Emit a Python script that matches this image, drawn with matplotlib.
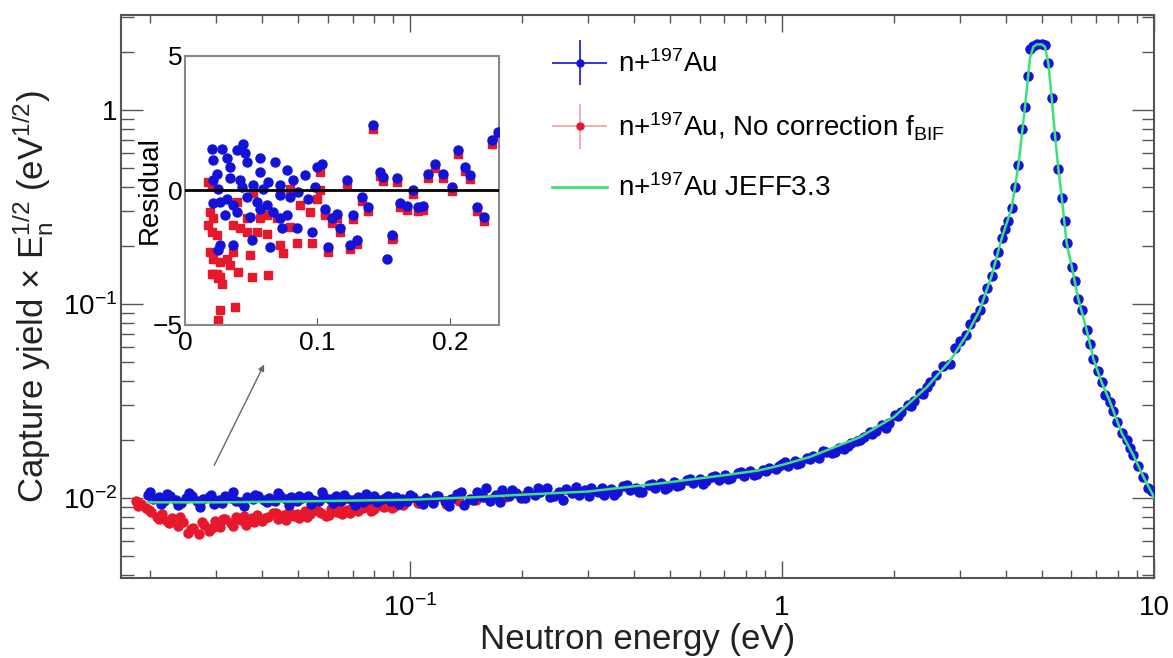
import numpy as np
import matplotlib
matplotlib.use('Agg')
import matplotlib.pyplot as plt
from matplotlib.ticker import LogLocator, FixedLocator, FixedFormatter, NullFormatter
from matplotlib.container import ErrorbarContainer
from matplotlib.legend_handler import HandlerErrorbar

plt.rcParams['font.family'] = ['Liberation Sans', 'DejaVu Sans']
plt.rcParams['mathtext.fontset'] = 'custom'
plt.rcParams['mathtext.rm'] = 'Liberation Sans'
plt.rcParams['mathtext.it'] = 'Liberation Sans:italic'
plt.rcParams['mathtext.bf'] = 'Liberation Sans:bold'

# Main plot data: capture yield x sqrt(E)
# n+197Au (corrected), blue
blue_E = [0.0197, 0.0204, 0.0211, 0.0218, 0.0226, 0.0234, 0.0242, 0.0250, 0.0259, 0.0268,
          0.0277, 0.0287, 0.0297, 0.0307, 0.0318, 0.0329, 0.0340, 0.0352, 0.0364, 0.0377,
          0.0390, 0.0404, 0.0418, 0.0432, 0.0447, 0.0463, 0.0479, 0.0496, 0.0513, 0.0531,
          0.0549, 0.0568, 0.0588, 0.0609, 0.0630, 0.0652, 0.0674, 0.0698, 0.0722, 0.0747,
          0.0773, 0.0800, 0.0828, 0.0857, 0.0887, 0.0918, 0.0950, 0.0983,
          0.102, 0.106, 0.110, 0.115, 0.119, 0.124, 0.129, 0.134, 0.140, 0.145,
          0.151, 0.157, 0.164, 0.170, 0.177, 0.184, 0.192, 0.199, 0.207, 0.216,
          0.224, 0.233, 0.243, 0.252, 0.263, 0.273, 0.284, 0.296, 0.307, 0.320,
          0.333, 0.346, 0.360, 0.374, 0.389, 0.405, 0.421, 0.438, 0.456, 0.474,
          0.493, 0.513, 0.533, 0.555, 0.577, 0.600, 0.624, 0.649, 0.675, 0.702,
          0.730, 0.760, 0.790, 0.822, 0.855, 0.889, 0.924, 0.961,
          1.00, 1.04, 1.08, 1.12, 1.17, 1.21, 1.26, 1.31, 1.36, 1.42,
          1.47, 1.53, 1.59, 1.66, 1.72, 1.79, 1.86, 1.94, 2.01, 2.09,
          2.18, 2.26, 2.35, 2.45,
          2.50, 2.60, 2.71, 2.83, 2.92, 3.01, 3.13, 3.20, 3.30, 3.40,
          3.48, 3.55, 3.66, 3.74, 3.81, 3.90, 3.98, 4.06, 4.14, 4.23,
          4.32, 4.41, 4.50, 4.59, 4.64, 4.74, 4.84, 4.99, 5.09, 5.20,
          5.31, 5.42, 5.53, 5.65, 5.76, 5.82, 6.01, 6.13, 6.26, 6.39,
          6.59, 6.73, 6.87, 7.09, 7.23, 7.38, 7.62, 7.78, 7.94, 8.19,
          8.45, 8.61, 8.79, 9.08, 9.36, 9.65, 9.86,
          # in-between bins
          0.0200, 0.0214, 0.0222, 0.0238, 0.0254, 0.0272, 0.0292, 0.0312, 0.0334, 0.0358,
          0.0383, 0.0411, 0.0440, 0.0471, 0.0504, 0.0540, 0.0578, 0.0620, 0.0663, 0.0710,
          0.0760, 0.0814, 0.0872, 0.0934, 0.0999,
          0.108, 0.117, 0.127, 0.137, 0.148, 0.160, 0.174, 0.188, 0.203, 0.220,
          0.238, 0.258, 0.279, 0.302, 0.327, 0.353, 0.382, 0.413, 0.447, 0.484,
          0.523, 0.566, 0.612, 0.662, 0.716, 0.775, 0.838, 0.906, 0.980,
          1.02, 1.10, 1.19, 1.29, 1.39, 1.50, 1.62, 1.75, 1.90, 2.05, 2.22, 2.40]
blue_Y = [0.0104, 0.0099, 0.0101, 0.0097, 0.0102, 0.0098, 0.0094, 0.0100, 0.0103, 0.0096,
          0.0099, 0.0101, 0.0093, 0.0098, 0.0102, 0.0100, 0.0097, 0.0095, 0.0101, 0.0099,
          0.0103, 0.0098, 0.0100, 0.0096, 0.0102, 0.0099, 0.0101, 0.0097, 0.0100, 0.0103,
          0.0098, 0.0096, 0.0101, 0.0099, 0.0102, 0.0097, 0.0100, 0.0098, 0.0101, 0.0095,
          0.0099, 0.0102, 0.0098, 0.0100, 0.0097, 0.0101, 0.0099, 0.0096,
          0.0101, 0.0096, 0.0100, 0.0094, 0.0102, 0.0097, 0.0099, 0.0105, 0.0092, 0.0099,
          0.0108, 0.0101, 0.0097, 0.0104, 0.0110, 0.0102, 0.0106, 0.0100, 0.0109, 0.0104,
          0.0107, 0.0112, 0.0103, 0.0108, 0.0111, 0.0106, 0.0104, 0.0110, 0.0113, 0.0107,
          0.0104, 0.0111, 0.0108, 0.0115, 0.0110, 0.0113, 0.0108, 0.0117, 0.0112, 0.0119,
          0.0114, 0.0121, 0.0117, 0.0124, 0.0119, 0.0126, 0.0122, 0.0129, 0.0124, 0.0131,
          0.0127, 0.0134, 0.0130, 0.0137, 0.0133, 0.0140, 0.0143, 0.0141,
          0.0150, 0.0147, 0.0156, 0.0152, 0.0161, 0.0164, 0.0160, 0.0172, 0.0170, 0.0181,
          0.0178, 0.0192, 0.0197, 0.0206, 0.0218, 0.0221, 0.0238, 0.0245, 0.0268, 0.0279,
          0.0301, 0.0318, 0.0346, 0.0372,
          0.0395, 0.0430, 0.0479, 0.0489, 0.0594, 0.0647, 0.0691, 0.0785, 0.0857, 0.0933,
          0.106, 0.121, 0.140, 0.160, 0.185, 0.220, 0.245, 0.267, 0.311, 0.402,
          0.521, 0.801, 1.04, 1.49, 2.06, 2.15, 2.20, 2.20, 2.17, 1.74,
          1.15, 0.735, 0.499, 0.354, 0.267, 0.207, 0.156, 0.132, 0.106, 0.0933,
          0.0737, 0.0620, 0.0522, 0.0449, 0.0395, 0.0340, 0.0312, 0.0280, 0.0246, 0.0216,
          0.0198, 0.0182, 0.0167, 0.0147, 0.0129, 0.0113, 0.0109,
          0.0107, 0.0093, 0.0105, 0.0092, 0.0106, 0.0090, 0.0104, 0.0094, 0.0108, 0.0091,
          0.0104, 0.0095, 0.0106, 0.0092, 0.0103, 0.0093, 0.0107, 0.0094, 0.0104, 0.0092,
          0.0105, 0.0095, 0.0103, 0.0093, 0.0104,
          0.0093, 0.0103, 0.0091, 0.0107, 0.0098, 0.0112, 0.0095, 0.0110, 0.0100, 0.0113,
          0.0101, 0.0098, 0.0114, 0.0103, 0.0112, 0.0104, 0.0117, 0.0107, 0.0118, 0.0111,
          0.0116, 0.0125, 0.0118, 0.0130, 0.0125, 0.0136, 0.0131, 0.0138, 0.0146,
          0.0153, 0.0149, 0.0158, 0.0175, 0.0173, 0.0186, 0.0200, 0.0213, 0.0230, 0.0265,
          0.0298, 0.0345]

# n+197Au without f_BIF correction, red
red_E = [0.0183, 0.0189, 0.0195, 0.0201, 0.0208, 0.0215, 0.0222, 0.0229, 0.0237, 0.0245,
         0.0253, 0.0261, 0.0270, 0.0279, 0.0288, 0.0298, 0.0308, 0.0318, 0.0329, 0.0340,
         0.0351, 0.0363, 0.0375, 0.0387, 0.0400, 0.0414, 0.0428, 0.0442, 0.0457, 0.0472,
         0.0488, 0.0504, 0.0521, 0.0538, 0.0556, 0.0575, 0.0594, 0.0614, 0.0635, 0.0656,
         0.0678, 0.0700, 0.0724, 0.0748, 0.0773, 0.0799, 0.0826, 0.0853, 0.0882, 0.0911,
         0.0942, 0.0973, 0.105, 0.115, 0.125, 0.135, 0.150, 0.165, 0.180, 0.200,
         0.0186, 0.0198, 0.0211, 0.0225, 0.0241, 0.0257, 0.0275, 0.0293, 0.0313, 0.0334,
         0.0357, 0.0381, 0.0407, 0.0435, 0.0464, 0.0496, 0.0529, 0.0565, 0.0604, 0.0645,
         0.0689, 0.0736, 0.0786, 0.0839, 0.0896, 0.0957]
red_Y = [0.0096, 0.0093, 0.0089, 0.0085, 0.0080, 0.0083, 0.0076, 0.0079, 0.0072, 0.0075,
         0.0066, 0.0070, 0.0065, 0.0073, 0.0068, 0.0076, 0.0071, 0.0078, 0.0074, 0.0080,
         0.0077, 0.0073, 0.0079, 0.0082, 0.0076, 0.0080, 0.0084, 0.0078, 0.0082, 0.0085,
         0.0081, 0.0079, 0.0086, 0.0083, 0.0087, 0.0084, 0.0081, 0.0088, 0.0085, 0.0083,
         0.0087, 0.0090, 0.0086, 0.0089, 0.0091, 0.0088, 0.0092, 0.0090, 0.0093, 0.0091,
         0.0094, 0.0095, 0.0094, 0.0096, 0.0093, 0.0097, 0.0098, 0.0099, 0.0101, 0.0103,
         0.0091, 0.0087, 0.0078, 0.0074, 0.0080, 0.0069, 0.0075, 0.0070, 0.0078, 0.0072,
         0.0081, 0.0075, 0.0079, 0.0084, 0.0077, 0.0083, 0.0080, 0.0086, 0.0082, 0.0088,
         0.0084, 0.0089, 0.0086, 0.0091, 0.0089, 0.0092]

# JEFF3.3 evaluation, green
jeff_E = [0.0197, 0.03, 0.05, 0.1, 0.15, 0.2, 0.3, 0.47, 0.7, 0.87, 1.0, 1.19, 1.62, 2.0,
          2.45, 2.83, 3.13, 3.4, 3.66, 3.9, 4.14, 4.32, 4.5, 4.64, 4.74, 4.84, 4.99, 5.09,
          5.2, 5.31, 5.42, 5.53, 5.65, 5.82, 6.01, 6.26, 6.59, 6.87, 7.23, 7.62, 8.19,
          8.79, 9.36, 10.0]
jeff_Y = [0.0095, 0.0095, 0.0096, 0.0098, 0.0101, 0.0104, 0.0108, 0.0119, 0.0131, 0.0139,
          0.0148, 0.0163, 0.0206, 0.0262, 0.0373, 0.051, 0.069, 0.093, 0.140, 0.220, 0.311,
          0.521, 1.04, 1.85, 2.12, 2.18, 2.18, 2.12, 1.74, 1.15, 0.735, 0.499, 0.354, 0.207,
          0.156, 0.106, 0.0737, 0.0522, 0.0395, 0.0312, 0.0216, 0.0167, 0.0129, 0.0101]

# Inset residuals
res_blue_E = [0.0201, 0.0277, 0.0390, 0.0440, 0.0453, 0.0214, 0.0314, 0.0340, 0.0465, 0.0566,
              0.0566, 0.0679, 0.0767, 0.0818, 0.0906, 0.0994, 0.1032, 0.0239, 0.0214, 0.0252,
              0.0340, 0.0415, 0.0428, 0.0516, 0.0591, 0.0629, 0.0717, 0.0717, 0.0792, 0.0855,
              0.0931, 0.0981, 0.0214, 0.0264, 0.0314, 0.0365, 0.0465, 0.0541, 0.0616, 0.0302,
              0.0390, 0.0491, 0.0566, 0.0667, 0.0717, 0.0767, 0.0843, 0.0730, 0.0642, 0.0365,
              0.0264, 0.0252, 0.0503, 0.0956, 0.1057, 0.1107, 0.1145, 0.1170, 0.1220, 0.1270,
              0.1296, 0.1245, 0.1082, 0.1334, 0.1384, 0.1472, 0.1497, 0.1421, 0.1597, 0.1560,
              0.1522, 0.1623, 0.1673, 0.1723, 0.1761, 0.1799, 0.1836, 0.1887, 0.1950, 0.2013,
              0.2063, 0.2113, 0.2151, 0.2201, 0.2257, 0.2315, 0.2360]
res_blue = [1.56, 1.56, 1.50, 1.71, 1.38, 1.13, 1.19, 0.88, 1.07, 1.19,
            0.69, 1.07, 0.76, 0.38, 0.57, 0.88, 1.00, 0.63, 0.38, 0.07,
            0.45, 0.38, 0.14, 0.20, 0.07, 0.32, 0.20, -0.17, -0.24, -0.05,
            -0.30, 0.14, -0.48, -0.42, -0.30, -0.55, -0.24, -0.42, -0.55, -0.92,
            -0.79, -0.98, -0.67, -0.79, -1.04, -0.92, -1.41, -1.41, -2.09, -2.03,
            -2.03, -2.22, -1.85, -1.54, -0.67, -1.04, -0.86, -1.41, 0.38, -0.92,
            -1.85, -2.03, -2.09, -0.24, -0.61, 0.69, 0.51, 2.45, 0.45, -1.66,
            -2.53, -0.48, -0.57, 0.01, -0.61, -0.57, 0.63, 1.00, 0.63, 0.14,
            1.50, 0.88, 0.57, -0.61, -0.98, 1.87, 2.18]
res_red_E = [0.0176, 0.0201, 0.0189, 0.0214, 0.0176, 0.0201, 0.0239, 0.0189, 0.0214, 0.0264,
             0.0201, 0.0252, 0.0277, 0.0314, 0.0340, 0.0365, 0.0403, 0.0503, 0.0629, 0.0491,
             0.0264, 0.0377, 0.0252, 0.0415, 0.0465, 0.0541, 0.0616, 0.0692, 0.0792, 0.0843,
             0.0717, 0.0742, 0.0956, 0.0868, 0.0944, 0.0994, 0.1019, 0.1019, 0.0465, 0.0566,
             0.0616, 0.0365, 0.0792, 0.0717, 0.0516, 0.0390, 0.1082, 0.1572, 0.1057,
             0.0208, 0.0240, 0.0253, 0.0268,
             0.1057, 0.1107, 0.1145, 0.1170, 0.1220, 0.1270, 0.1296, 0.1245, 0.1334, 0.1384,
             0.1472, 0.1497, 0.1421, 0.1597, 0.1560, 0.1623, 0.1673, 0.1723, 0.1761, 0.1799,
             0.1836, 0.1887, 0.1950, 0.2013, 0.2063, 0.2113, 0.2151, 0.2201, 0.2257, 0.2315,
             0.2360]
res_red = [0.32, 0.20, -0.79, -1.04, -1.29, -1.54, -1.66, -2.28, -2.53, -2.65,
           -3.09, -3.27, -3.46, -2.53, -2.78, -2.28, -3.02, -3.21, -3.15, -2.40,
           -4.45, -4.32, -4.82, -1.41, -1.54, -1.54, -1.60, -1.04, -1.35, -1.97,
           -2.03, -2.34, -1.97, -0.55, -0.79, -0.30, 0.01, 0.69, -1.04, -1.04,
           -0.92, -1.29, 0.07, -0.11, -0.11, -0.42, -2.28, -1.78, -0.92,
           -3.10, -3.10, -3.20, -3.20,
           -0.82, -1.19, -1.01, -1.56, 0.23, -1.07, -2.00, -2.18, -0.39, -0.76,
           0.54, 0.36, 2.30, 0.30, -1.81, -0.63, -0.72, -0.14, -0.76, -0.72,
           0.48, 0.85, 0.48, -0.01, 1.35, 0.73, 0.42, -0.76, -1.13, 1.72,
           2.03]

# arrow pointing from the low-energy data to the inset
arrow_from = (0.0295, 0.0143)
arrow_to = (0.0408, 0.0502)

BLUE = '#1212d8'
RED = '#e8182c'
GREEN = '#3de07a'
FRAME = '#555555'

fig = plt.figure(figsize=(11.73, 6.58), dpi=100)
ax = fig.add_axes([0.1032, 0.1216, 0.8806, 0.8556])

ax.plot(red_E, red_Y, 'o', color=RED, ms=6.5, zorder=2)
ax.plot(blue_E, blue_Y, 'o', color=BLUE, ms=6.5, zorder=3)
ax.plot(jeff_E, jeff_Y, '-', color=GREEN, lw=1.8, zorder=4)

# legend proxies (errorbar style)
h1 = ax.errorbar([], [], xerr=[], yerr=[], fmt='o', color=BLUE, ms=5, elinewidth=1.2, capsize=3,
                 label=r'n+$^{197}$Au')
h2 = ax.errorbar([], [], xerr=[], yerr=[], fmt='o', color=RED, ecolor='#f0a0a0', ms=5,
                 elinewidth=1.2, capsize=3, label=r'n+$^{197}$Au, No correction f$_{\rm BIF}$')
h3, = ax.plot([], [], '-', color=GREEN, lw=2, label=r'n+$^{197}$Au JEFF3.3')
ax.legend(handles=[h1, h2, h3], loc='upper left', bbox_to_anchor=(0.417, 0.937),
          frameon=False, fontsize=20, borderpad=0, borderaxespad=0, handlelength=2.0,
          handletextpad=0.4, labelspacing=1.15,
          handler_map={ErrorbarContainer: HandlerErrorbar(xerr_size=1.0, yerr_size=0.8)})

ax.annotate('', xy=arrow_to, xytext=arrow_from,
            arrowprops=dict(arrowstyle='-|>', color='#666666', lw=1, mutation_scale=9))

ax.set_xscale('log')
ax.set_yscale('log')
ax.set_xlim(0.0167, 10)
ax.set_ylim(0.00387, 3.09)

ax.xaxis.set_major_locator(FixedLocator([0.1, 1, 10]))
ax.xaxis.set_major_formatter(FixedFormatter([r'$10^{-1}$', '1', '10']))
ax.xaxis.set_minor_locator(LogLocator(base=10, subs=np.arange(2, 10)))
ax.xaxis.set_minor_formatter(NullFormatter())
ax.yaxis.set_major_locator(FixedLocator([0.01, 0.1, 1]))
ax.yaxis.set_major_formatter(FixedFormatter([r'$10^{-2}$', r'$10^{-1}$', '1']))
ax.yaxis.set_minor_locator(LogLocator(base=10, subs=np.arange(2, 10)))
ax.yaxis.set_minor_formatter(NullFormatter())

ax.tick_params(which='both', direction='in', top=True, right=True, color=FRAME, width=1)
ax.tick_params(axis='x', which='major', length=12, pad=12, labelsize=20)
ax.tick_params(axis='x', which='minor', length=6)
ax.tick_params(axis='y', which='major', length=16, pad=3, labelsize=20)
ax.tick_params(axis='y', which='minor', length=9)
for s in ax.spines.values():
    s.set_color(FRAME)
    s.set_linewidth(1.5)

ax.set_xlabel('Neutron energy (eV)', fontsize=25, color='#222222')
ax.xaxis.set_label_coords(0.5, -0.080)
ax.set_ylabel(r'Capture yield $\times$ E$_{\rm n}^{1/2}$ (eV$^{1/2}$)', fontsize=25, color='#222222')
ax.yaxis.set_label_coords(-0.064, 0.5)

# inset with residuals
axi = fig.add_axes([0.1577, 0.5061, 0.2677, 0.4088])
axi.plot(res_red_E, res_red, 's', color=RED, ms=6, zorder=2)
axi.plot(res_blue_E, res_blue, 'o', color=BLUE, ms=6.5, zorder=3)
axi.axhline(0, color='black', lw=2, zorder=4)
axi.set_xlim(0, 0.237)
axi.set_ylim(-5, 5)
axi.set_xticks([0, 0.1, 0.2])
axi.set_xticklabels(['0', '0.1', '0.2'])
axi.set_yticks([-5, 0, 5])
axi.set_yticklabels(['\u22125', '0', '5'])
axi.tick_params(direction='in', color=FRAME, labelsize=19, length=5)
axi.tick_params(axis='x', pad=4)
axi.tick_params(axis='y', pad=2)
for s in axi.spines.values():
    s.set_color('#888888')
    s.set_linewidth(1.5)
axi.set_ylabel('Residual', fontsize=20)
axi.yaxis.set_label_coords(-0.070, 0.5)

fig.savefig('out.png', dpi=100)
